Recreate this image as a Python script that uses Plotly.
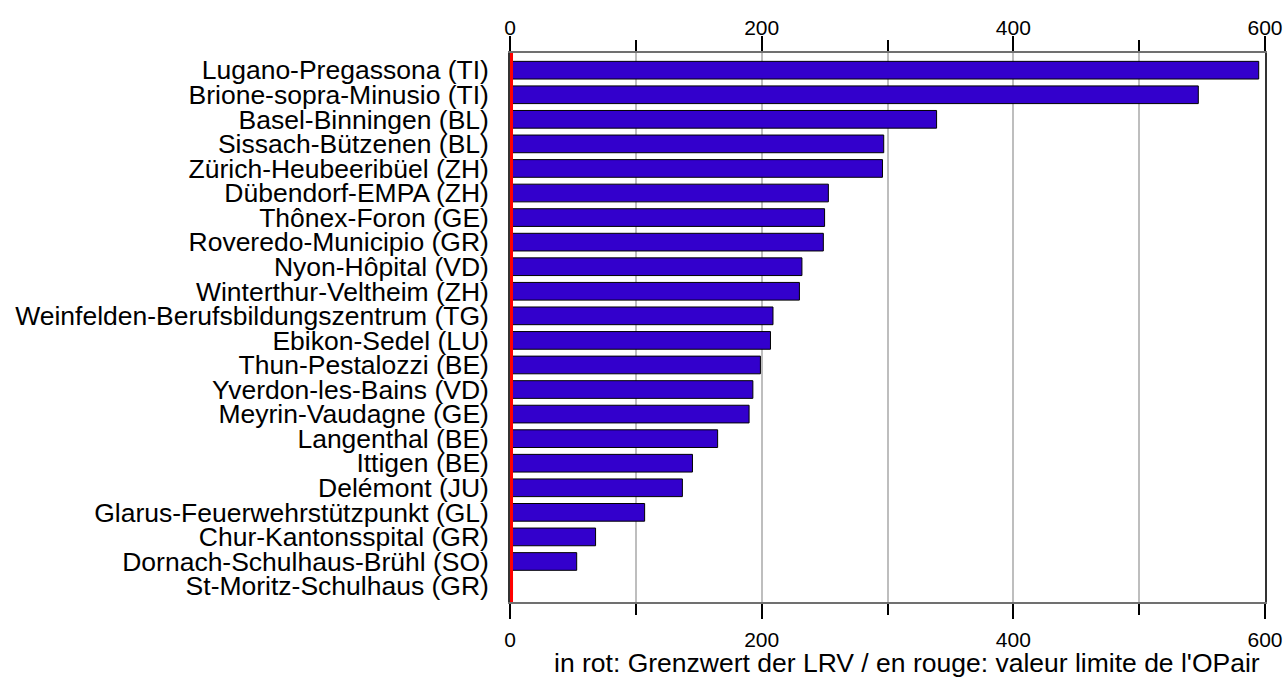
import plotly.graph_objects as go

stations = [
    "Lugano-Pregassona (TI)", "Brione-sopra-Minusio (TI)", "Basel-Binningen (BL)",
    "Sissach-Bützenen (BL)", "Zürich-Heubeeribüel (ZH)", "Dübendorf-EMPA (ZH)",
    "Thônex-Foron (GE)", "Roveredo-Municipio (GR)", "Nyon-Hôpital (VD)",
    "Winterthur-Veltheim (ZH)", "Weinfelden-Berufsbildungszentrum (TG)", "Ebikon-Sedel (LU)",
    "Thun-Pestalozzi (BE)", "Yverdon-les-Bains (VD)", "Meyrin-Vaudagne (GE)",
    "Langenthal (BE)", "Ittigen (BE)", "Delémont (JU)",
    "Glarus-Feuerwehrstützpunkt (GL)", "Chur-Kantonsspital (GR)", "Dornach-Schulhaus-Brühl (SO)",
    "St-Moritz-Schulhaus (GR)",
]
values = [595, 547, 339, 297, 296, 253, 250, 249, 232, 230, 209, 207,
          199, 193, 190, 165, 145, 137, 107, 68, 53, 2]
limit_value = 1
x_tickvals = [0, 200, 400, 600]
axis_note = "in rot: Grenzwert der LRV / en rouge: valeur limite de l'OPair"

FONT = "Liberation Sans, Arial, sans-serif"

fig = go.Figure()
fig.add_trace(go.Bar(
    x=values, y=stations, orientation="h",
    marker=dict(color="#3300CC", line=dict(color="black", width=1)),
    width=0.72, showlegend=False, hoverinfo="x+y",
))
# red limit line (drawn on the top x axis and a hidden 0..1 y axis)
fig.add_trace(go.Scatter(
    x=[limit_value, limit_value], y=[0, 1], xaxis="x2", yaxis="y2",
    mode="lines", line=dict(color="#ff0000", width=3.5), showlegend=False,
    hoverinfo="skip",
))

axis_common = dict(
    range=[0, 600], tickvals=x_tickvals, ticks="outside", ticklen=15,
    tickwidth=1.5, tickcolor="black", showgrid=True, gridcolor="#bebebe",
    gridwidth=2, zeroline=False, showline=True, linecolor="#707070", linewidth=2,
    automargin=False,
    tickfont=dict(family=FONT, size=21, color="black"),
    minor=dict(dtick=100, tick0=0, ticks="outside", ticklen=11, tickcolor="black",
               tickwidth=1.5, showgrid=True, gridcolor="#bebebe", gridwidth=2),
)

fig.update_layout(
    width=1285, height=679,
    margin=dict(l=510, r=20, t=53, b=77, autoexpand=False),
    paper_bgcolor="white", plot_bgcolor="white",
    xaxis=dict(**axis_common, side="bottom", ticklabelstandoff=3),
    xaxis2=dict(**axis_common, side="top", overlaying="x", matches="x",
                ticklabelstandoff=-7),
    yaxis=dict(type="category", range=[21.65, -0.7], ticks="", showgrid=False,
               tickmode="array", tickvals=stations, ticktext=stations,
               showline=True, mirror=True, linecolor="#333333", linewidth=1.5,
               zeroline=False, ticklabelstandoff=14, automargin=False,
               tickfont=dict(family=FONT, size=26.5, color="black")),
    yaxis2=dict(overlaying="y", range=[0, 1], visible=False, automargin=False),
    bargap=0.28,
)

fig.add_annotation(text=axis_note, xref="paper", yref="paper", x=0.996, y=-0.112,
                   xanchor="right", yanchor="middle", showarrow=False,
                   font=dict(family=FONT, size=26.5, color="black"))

# remove the browser's default 8px body margin so the figure fills the window exactly
fig.write_html(
    "out.html",
    config={"displayModeBar": False},
    post_script="document.body.style.margin='0';document.body.style.overflow='hidden';",
)
